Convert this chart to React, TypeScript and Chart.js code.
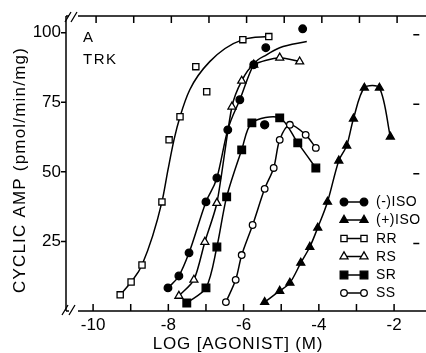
import React, { useEffect, useRef } from 'react';
import { Chart, registerables } from 'chart.js';

Chart.register(...registerables);

// ---- axis ticks ----
const xTickValues = [-10, -9, -8, -7, -6, -5, -4, -3, -2];
const xTickLabels = ['-10', '', '-8', '', '-6', '', '-4', '', '-2'];
const yTickValues = [25, 50, 75, 100];
const yTickLabels = ['25', '50', '75', '100'];

// ---- (-)ISO : filled circles ----
const isoMinusX = [-8.01, -7.72, -7.45, -7.0, -6.71, -6.42, -6.1, -5.73, -5.41, -4.43];
const isoMinusY = [8.3, 12.6, 20.9, 39.2, 47.8, 65.1, 75.9, 88.5, 94.6, 101.4];
const isoMinusFitX = [-8.01, -7.72, -7.45, -7.0, -6.71, -6.42, -6.1, -5.73, -5.38, -5.04, -4.32];
const isoMinusFitY = [8.3, 12.6, 20.9, 39.2, 47.8, 65.1, 75.9, 88.5, 92.1, 94.6, 96.8];

// ---- (+)ISO : filled triangles ----
const isoPlusX = [-5.44, -5.04, -4.77, -4.48, -4.24, -4.03, -3.77, -3.47, -3.26, -3.08, -2.79, -2.39, -2.1];
const isoPlusY = [3.2, 7.2, 10.1, 17.3, 23.0, 29.9, 39.2, 54.0, 59.4, 69.1, 80.2, 80.2, 62.6];

// ---- RR : open squares ----
const rrX = [-9.28, -8.99, -8.7, -8.17, -7.98, -7.69, -7.27, -6.98, -6.02, -5.33];
const rrY = [5.8, 10.4, 16.5, 39.2, 61.5, 69.8, 87.8, 78.8, 97.5, 98.6];
const rrFitX = [-9.28, -8.99, -8.7, -8.17, -8.01, -7.85, -7.69, -7.43, -6.9, -6.02, -5.33];
const rrFitY = [5.8, 10.4, 16.5, 39.2, 50.7, 61.5, 69.8, 79.5, 89.6, 97.5, 98.6];

// ---- RS : open triangles ----
const rsX = [-7.72, -7.32, -7.03, -6.71, -6.31, -6.05, -5.73, -5.04, -4.51];
const rsY = [5.4, 11.2, 24.8, 38.8, 73.4, 82.7, 88.5, 91.0, 89.6];

// ---- SR : filled squares ----
const srX = [-7.51, -7.0, -6.71, -6.45, -6.05, -5.78, -5.04, -4.56, -4.08];
const srY = [2.9, 8.3, 23.0, 41.0, 57.9, 67.6, 69.4, 60.4, 51.4];
const srOffX = [-5.44];
const srOffY = [66.9];

// ---- SS : open circles ----
const ssX = [-6.47, -6.21, -6.05, -5.76, -5.44, -5.2, -5.04, -4.77, -4.35, -4.08];
const ssY = [3.2, 11.2, 20.1, 30.9, 43.9, 51.4, 61.5, 66.9, 63.3, 58.6];

const legendLabels = ['(-)ISO', '(+)ISO', 'RR', 'RS', 'SR', 'SS'];

const pts = (xs: number[], ys: number[]) => xs.map((x, i) => ({ x, y: ys[i] }));

type Mk = { style: string; filled: boolean; r: number };
const markers: Mk[] = [
  { style: 'circle', filled: true, r: 3.8 },
  { style: 'triangle', filled: true, r: 4.6 },
  { style: 'rect', filled: false, r: 4.4 },
  { style: 'triangle', filled: false, r: 4.6 },
  { style: 'rect', filled: true, r: 5.4 },
  { style: 'circle', filled: false, r: 3.3 },
];

function drawMarker(ctx: CanvasRenderingContext2D, m: Mk, x: number, y: number) {
  ctx.beginPath();
  if (m.style === 'circle') ctx.arc(x, y, m.r, 0, Math.PI * 2);
  else if (m.style === 'triangle') {
    ctx.moveTo(x, y - m.r);
    ctx.lineTo(x + m.r * 0.866, y + m.r * 0.5);
    ctx.lineTo(x - m.r * 0.866, y + m.r * 0.5);
    ctx.closePath();
  } else {
    const s = m.r * Math.SQRT1_2;
    ctx.rect(x - s, y - s, 2 * s, 2 * s);
  }
  ctx.fillStyle = m.filled ? '#000' : '#fff';
  ctx.fill();
  ctx.lineWidth = 1.3;
  ctx.strokeStyle = '#000';
  ctx.stroke();
}

const framePlugin = {
  id: 'frame',
  afterDraw(chart: any) {
    const ctx: CanvasRenderingContext2D = chart.ctx;
    const { left, right, top, bottom } = chart.chartArea;
    const xs = chart.scales.x;
    const ys = chart.scales.y;
    ctx.save();
    ctx.strokeStyle = '#000';
    ctx.fillStyle = '#000';
    ctx.lineWidth = 1.5;
    // frame lines
    ctx.beginPath();
    ctx.moveTo(left + 12, top);
    ctx.lineTo(chart.width, top);
    ctx.moveTo(left, top);
    ctx.lineTo(left, bottom);
    ctx.moveTo(left + 12, bottom);
    ctx.lineTo(chart.width, bottom);
    ctx.moveTo(left, top);
    ctx.lineTo(left + 3, top);
    ctx.moveTo(left, bottom);
    ctx.lineTo(left + 3, bottom);
    ctx.stroke();
    // break marks
    ctx.lineWidth = 1.3;
    ctx.beginPath();
    ctx.moveTo(left - 1, top + 6);
    ctx.lineTo(left + 5, top - 4);
    ctx.moveTo(left + 5, top + 6);
    ctx.lineTo(left + 11, top - 4);
    ctx.moveTo(left - 4, bottom + 4);
    ctx.lineTo(left + 2, bottom - 6);
    ctx.moveTo(left + 3, bottom + 4);
    ctx.lineTo(left + 9, bottom - 6);
    ctx.stroke();
    // x ticks (inward, top and bottom)
    ctx.lineWidth = 1.5;
    ctx.beginPath();
    xTickValues.forEach((v) => {
      const px = xs.getPixelForValue(v);
      ctx.moveTo(px, bottom);
      ctx.lineTo(px, bottom - 7);
      ctx.moveTo(px + 3, top);
      ctx.lineTo(px + 3, top + 7);
    });
    // y ticks: outward on left, short marks on right
    yTickValues.forEach((v) => {
      const py = ys.getPixelForValue(v);
      ctx.moveTo(left - 5, py);
      ctx.lineTo(left, py);
      ctx.moveTo(right - 6, py + 2);
      ctx.lineTo(right, py + 2);
    });
    ctx.stroke();

    // axis titles
    ctx.font = '17px "Liberation Sans", Arial, sans-serif';
    (ctx as any).letterSpacing = '0.8px';
    ctx.textAlign = 'center';
    ctx.textBaseline = 'middle';
    ctx.fillText('LOG [AGONIST] (M)', 238, 344);
    ctx.save();
    ctx.translate(20, 170);
    ctx.rotate(-Math.PI / 2);
    (ctx as any).letterSpacing = '1.2px';
    ctx.fillText('CYCLIC AMP (pmol/min/mg)', 0, 0);
    ctx.restore();

    // panel labels
    ctx.font = '15px "Liberation Sans", Arial, sans-serif';
    (ctx as any).letterSpacing = '1.5px';
    ctx.textAlign = 'left';
    ctx.fillText('A', 83, 38);
    ctx.fillText('TRK', 83, 60);

    // legend
    const rows = [202, 220, 238.5, 256.5, 275, 293];
    ctx.font = '14px "Liberation Sans", Arial, sans-serif';
    (ctx as any).letterSpacing = '0.5px';
    legendLabels.forEach((lab, i) => {
      const y = rows[i];
      ctx.beginPath();
      ctx.lineWidth = 1.5;
      ctx.strokeStyle = '#000';
      ctx.moveTo(344, y);
      ctx.lineTo(364, y);
      ctx.stroke();
      drawMarker(ctx, markers[i], 344, y);
      drawMarker(ctx, markers[i], 364, y);
      ctx.fillStyle = '#000';
      ctx.textBaseline = 'middle';
      ctx.fillText(lab, 376, y + 0.5);
    });
    ctx.restore();
  },
};

export default function App() {
  const ref = useRef<HTMLCanvasElement | null>(null);
  useEffect(() => {
    if (!ref.current) return;
    const lineBase = { borderColor: '#000', borderWidth: 1.5, showLine: true, pointRadius: 0 };
    const ptBase = (m: Mk) => ({
      pointStyle: m.style,
      pointRadius: m.r,
      pointBackgroundColor: m.filled ? '#000' : '#fff',
      pointBorderColor: '#000',
      pointBorderWidth: 1.3,
      borderColor: '#000',
      borderWidth: 1.5,
    });
    const chart = new Chart(ref.current, {
      type: 'scatter',
      data: {
        datasets: [
          { label: 'RR points', data: pts(rrX, rrY), ...ptBase(markers[2]), showLine: false },
          { label: '(-)ISO points', data: pts(isoMinusX, isoMinusY), ...ptBase(markers[0]), showLine: false },
          { label: 'SR off', data: pts(srOffX, srOffY), ...ptBase(markers[4]), pointStyle: 'circle', pointRadius: 4, showLine: false },
          { label: '(+)ISO', data: pts(isoPlusX, isoPlusY), ...ptBase(markers[1]), showLine: true, tension: 0.3 },
          { label: 'SS', data: pts(ssX, ssY), ...ptBase(markers[5]), showLine: true, tension: 0.3 },
          { label: 'SR', data: pts(srX, srY), ...ptBase(markers[4]), showLine: true, tension: 0.3 },
          { label: 'RS', data: pts(rsX, rsY), ...ptBase(markers[3]), showLine: true, tension: 0.25 },
          { label: '(-)ISO fit', data: pts(isoMinusFitX, isoMinusFitY), ...lineBase, cubicInterpolationMode: 'monotone' },
          { label: 'RR fit', data: pts(rrFitX, rrFitY), ...lineBase, cubicInterpolationMode: 'monotone' },
        ] as any,
      },
      options: {
        animation: false,
        responsive: false,
        events: [],
        layout: { padding: { top: 16, right: 6, left: 0, bottom: 0 } },
        plugins: { legend: { display: false }, tooltip: { enabled: false } },
        scales: {
          x: {
            type: 'linear',
            min: -10.72,
            max: -1.33,
            grid: { display: false, drawTicks: false },
            border: { display: false },
            ticks: {
              color: '#000',
              padding: 4,
              autoSkip: false,
              maxRotation: 0,
              font: { family: '"Liberation Sans", Arial, sans-serif', size: 17 },
              callback: (_v: any, i: number) => xTickLabels[i],
            },
            afterBuildTicks: (s: any) => {
              s.ticks = xTickValues.map((value) => ({ value }));
            },
            afterFit: (s: any) => {
              s.height = 42;
            },
          },
          y: {
            type: 'linear',
            min: 0,
            max: 106,
            grid: { display: false, drawTicks: false },
            border: { display: false },
            ticks: {
              color: '#000',
              padding: 5,
              autoSkip: false,
              font: { family: '"Liberation Sans", Arial, sans-serif', size: 17, lineHeight: 1 },
              callback: (_v: any, i: number) => yTickLabels[i],
            },
            afterBuildTicks: (s: any) => {
              s.ticks = yTickValues.map((value) => ({ value }));
            },
            afterFit: (s: any) => {
              s.width = 66;
            },
          },
        },
      } as any,
      plugins: [framePlugin],
    });
    return () => chart.destroy();
  }, []);
  return (
    <div style={{ position: 'fixed', left: 0, top: 0, width: 426, height: 353, background: '#fff' }}>
      <canvas ref={ref} width={426} height={353} style={{ width: 426, height: 353 }} />
    </div>
  );
}
